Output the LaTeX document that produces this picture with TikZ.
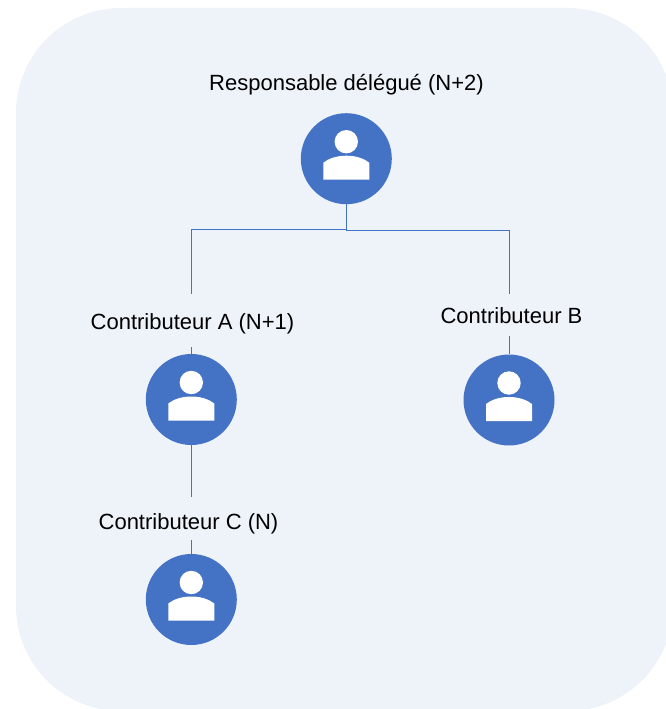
\documentclass[tikz,border=0pt]{standalone}
\usepackage{fontspec}
\setmainfont{Liberation Sans}
\usetikzlibrary{calc}
\definecolor{panelblue}{HTML}{EEF3FA}
\definecolor{discblue}{HTML}{4472C4}
\tikzset{
    disc/.style = {circle,fill=discblue,minimum size=91pt,inner sep=0pt},
    link/.style = {draw=discblue,line width=1pt},
    lbl/.style = {fill=panelblue,inner xsep=2pt,inner ysep=0pt,text=black,text height=22pt,text depth=5pt,font=\fontsize{22}{26}\selectfont},
    pics/usericon/.style = {
        code = {%
        \fill[white](0,-17)circle[radius=11.7];
        \fill[white](-23,21)--(-23,4).. controls (-18,0) and (-10,-3) .. (0,-3).. controls (10,-3) and (18,0) .. (23,4)--(23,21)--cycle;
        }
    },
}
\begin{document}
\begin{tikzpicture}[x=1pt,y=-1pt]
\useasboundingbox(0,0)rectangle(666,709);
\clip(0,0)rectangle(666,709);
\fill[panelblue,rounded corners=105pt](16,8)rectangle(673,711);

\node[disc](resp) at (346.3,158.7){};
\pic at (resp) {usericon};
\node[disc](ctra) at (191.3,399.5){};
\pic at (ctra) {usericon};
\node[disc](ctrb) at (509,400){};
\pic at (ctrb) {usericon};
\node[disc](ctrc) at (191.3,599.5){};
\pic at (ctrc) {usericon};

\coordinate(jcta) at (346.3,229);
\coordinate(jctb) at (346.3,230);
\draw[link](resp.south)--(jcta)-|(ctra.north);
\draw[link](resp.south)--(jctb)-|(ctrb.north);
\draw[link](ctra.south)--(ctrc.north);

\node[lbl,minimum height=43pt] (lresp) at (346.5,81.5) {Responsable délégué (N+2)};
\node[lbl,minimum height=53pt] (lctra) at (192.5,320.5) {Contributeur A (N+1)};
\node[lbl,minimum height=42pt] (lctrb) at (511.5,315) {Contributeur B};
\node[lbl,minimum height=43pt,text height=26pt] (lctrc) at (188.5,518.5) {Contributeur C (N)};
\end{tikzpicture}
\end{document}
